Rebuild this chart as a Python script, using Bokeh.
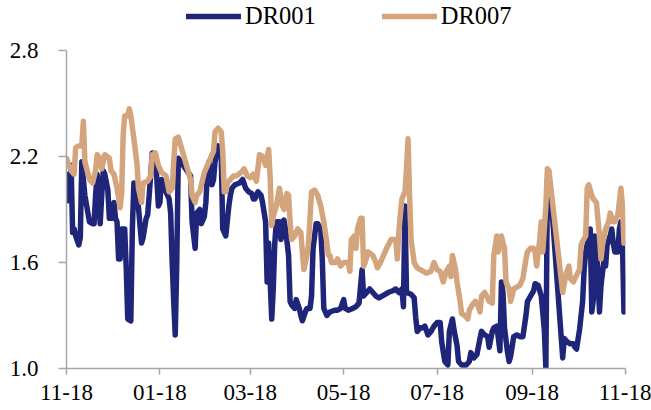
import pandas as pd
from bokeh.plotting import figure
from bokeh.models import (Range1d, FixedTicker, DatetimeTickFormatter, NumeralTickFormatter,
                          Legend, LegendItem, ColumnDataSource)
from bokeh.embed import file_html
from bokeh.resources import INLINE

# Interbank pledged repo rates (%), sampled trading days.
# Day numbers are counted from the start date below.
START = "2021-11-18"
END = "2022-11-18"

dr001_day = [0, 1, 2, 3, 4, 5, 6, 8, 9, 10, 11, 12, 15, 17, 18, 19, 20, 21, 22, 23, 24, 25, 27, 28, 30,
             31, 32, 33, 34, 35, 36, 38, 39, 40, 42, 43, 44, 46, 47, 49, 50, 52, 53, 54, 56, 58, 59, 60,
             61, 62, 65, 67, 68, 69, 70, 71, 72, 73, 81, 82, 84, 85, 87, 88, 90, 91, 92, 93, 95, 96, 97,
             99, 101, 102, 103, 104, 106, 107, 108, 110, 113, 115, 117, 119, 121, 122, 123, 125, 127,
             128, 130, 131, 132, 133, 134, 135, 136, 137, 139, 140, 141, 142, 143, 145, 146, 147, 149,
             150, 152, 153, 154, 156, 157, 159, 160, 161, 163, 164, 166, 167, 168, 170, 172, 175, 177,
             179, 181, 182, 184, 187, 189, 191, 193, 194, 196, 198, 200, 202, 204, 206, 208, 210, 213,
             215, 217, 219, 220, 221, 222, 225, 227, 228, 229, 231, 233, 234, 236, 238, 240, 242, 244,
             245, 247, 249, 250, 252, 253, 255, 256, 258, 261, 263, 264, 266, 268, 270, 271, 273, 275,
             276, 278, 279, 281, 282, 283, 284, 285, 286, 288, 289, 290, 292, 294, 296, 298, 300, 301,
             303, 305, 306, 308, 310, 312, 313, 314, 316, 324, 325, 327, 329, 331, 332, 333, 335, 336,
             337, 338, 339, 341, 342, 343, 344, 345, 346, 347, 348, 349, 351, 352, 353, 355, 356, 357,
             358, 360, 361, 362, 363, 364]
dr001 = [2.10, 1.95, 1.96, 2.15, 1.77, 1.79, 1.75, 1.70, 1.74, 2.17, 2.07, 1.98, 1.83, 1.82, 1.82, 1.98,
         2.10, 1.99, 1.82, 1.98, 2.12, 2.10, 2.01, 1.85, 1.85, 1.94, 1.85, 1.83, 1.62, 1.62, 1.79, 1.79,
         1.57, 1.28, 1.27, 1.79, 2.05, 1.98, 1.91, 1.71, 1.74, 1.85, 1.87, 1.98, 2.22, 2.21, 2.07, 1.92,
         1.94, 2.07, 2.00, 1.96, 1.88, 1.60, 1.38, 1.19, 1.60, 2.19, 2.09, 1.83, 1.68, 1.88, 1.90, 1.82,
         1.86, 1.94, 2.11, 2.17, 2.04, 2.07, 2.17, 2.26, 2.22, 1.79, 1.77, 1.75, 1.92, 1.98, 2.02, 2.04,
         2.05, 2.07, 2.02, 2.00, 1.99, 1.96, 1.96, 2.00, 1.98, 1.94, 1.83, 1.49, 1.71, 1.49, 1.28, 1.45,
         1.71, 1.83, 1.83, 1.73, 1.83, 1.84, 1.79, 1.64, 1.38, 1.36, 1.34, 1.39, 1.34, 1.30, 1.27, 1.32,
         1.34, 1.34, 1.41, 1.68, 1.82, 1.82, 1.79, 1.62, 1.34, 1.30, 1.32, 1.33, 1.33, 1.34, 1.39, 1.34,
         1.33, 1.34, 1.35, 1.37, 1.56, 1.41, 1.43, 1.45, 1.43, 1.41, 1.40, 1.41, 1.42, 1.43, 1.44, 1.45,
         1.43, 1.45, 1.35, 1.92, 1.43, 1.42, 1.40, 1.29, 1.21, 1.23, 1.23, 1.24, 1.19, 1.21, 1.24, 1.26,
         1.26, 1.15, 1.04, 1.02, 1.21, 1.28, 1.22, 1.13, 1.04, 1.02, 1.02, 1.04, 1.09, 1.06, 1.08, 1.17,
         1.21, 1.19, 1.18, 1.12, 1.21, 1.23, 1.24, 1.17, 1.10, 1.49, 1.43, 1.23, 1.09, 1.04, 1.07, 1.18,
         1.19, 1.18, 1.18, 1.30, 1.38, 1.41, 1.44, 1.48, 1.47, 1.41, 1.22, 1.00, 2.07, 2.02, 1.06, 1.17,
         1.15, 1.14, 1.14, 1.12, 1.11, 1.22, 1.30, 1.38, 1.56, 1.66, 1.75, 1.79, 1.32, 1.39, 1.75, 1.68,
         1.53, 1.32, 1.47, 1.62, 1.58, 1.70, 1.75, 1.79, 1.71, 1.66, 1.66, 1.79, 1.83, 1.71, 1.32]

dr007_day = [0, 3, 5, 6, 8, 10, 11, 12, 15, 17, 19, 20, 22, 23, 25, 28, 29, 31, 33, 35, 36, 37, 38, 40,
             41, 42, 44, 46, 47, 49, 50, 53, 55, 56, 58, 60, 62, 65, 67, 69, 70, 71, 73, 81, 82, 84, 85,
             87, 90, 92, 94, 96, 97, 99, 101, 102, 103, 104, 105, 107, 109, 111, 114, 116, 118, 120, 122,
             124, 126, 128, 130, 132, 133, 134, 135, 137, 139, 141, 142, 144, 145, 146, 147, 149, 151,
             153, 154, 155, 157, 158, 159, 160, 162, 164, 166, 168, 170, 171, 172, 173, 176, 177, 179,
             181, 183, 184, 185, 186, 188, 189, 190, 192, 193, 194, 195, 197, 200, 202, 203, 205, 207,
             209, 212, 214, 215, 216, 217, 218, 219, 221, 222, 223, 224, 225, 227, 229, 231, 233, 235,
             238, 240, 242, 244, 246, 248, 250, 251, 252, 254, 255, 257, 258, 260, 262, 263, 265, 267,
             269, 270, 271, 273, 275, 276, 278, 279, 281, 282, 283, 284, 285, 286, 287, 289, 290, 292,
             294, 296, 298, 300, 301, 303, 305, 306, 307, 309, 310, 311, 313, 314, 315, 324, 326, 328,
             329, 331, 332, 335, 336, 337, 339, 340, 341, 343, 344, 346, 348, 349, 350, 352, 354, 355,
             357, 358, 360, 362, 363, 364]
dr007 = [2.19, 2.12, 2.10, 2.25, 2.26, 2.26, 2.40, 2.17, 2.07, 2.05, 2.12, 2.21, 2.19, 2.13, 2.21, 2.19,
         2.12, 2.10, 2.02, 1.91, 1.99, 2.32, 2.43, 2.43, 2.47, 2.43, 2.30, 2.16, 2.02, 1.94, 2.05, 2.06,
         2.09, 2.21, 2.22, 2.15, 2.11, 2.09, 2.00, 2.02, 2.17, 2.30, 2.31, 2.07, 1.98, 1.94, 1.98, 2.00,
         2.11, 2.15, 2.19, 2.23, 2.34, 2.36, 2.34, 2.23, 2.00, 2.00, 2.05, 2.07, 2.09, 2.09, 2.11, 2.13,
         2.09, 2.08, 2.10, 2.06, 2.21, 2.20, 2.15, 2.24, 2.08, 1.81, 1.86, 1.92, 2.02, 1.92, 1.90, 1.99,
         1.98, 1.83, 1.73, 1.75, 1.79, 1.77, 1.66, 1.56, 1.64, 1.71, 1.85, 2.00, 2.01, 1.98, 1.92, 1.83,
         1.71, 1.64, 1.64, 1.60, 1.60, 1.62, 1.58, 1.60, 1.60, 1.60, 1.55, 1.73, 1.75, 1.68, 1.79, 1.85,
         1.85, 1.58, 1.60, 1.66, 1.64, 1.60, 1.57, 1.60, 1.64, 1.68, 1.73, 1.73, 1.73, 1.62, 1.77, 1.87,
         1.96, 2.00, 2.13, 2.30, 1.98, 1.73, 1.60, 1.57, 1.56, 1.55, 1.54, 1.55, 1.60, 1.56, 1.55, 1.49,
         1.55, 1.58, 1.52, 1.64, 1.56, 1.49, 1.38, 1.31, 1.30, 1.28, 1.33, 1.36, 1.38, 1.35, 1.32, 1.41,
         1.43, 1.40, 1.38, 1.37, 1.64, 1.75, 1.66, 1.71, 1.75, 1.71, 1.68, 1.49, 1.45, 1.38, 1.45, 1.46,
         1.47, 1.51, 1.62, 1.66, 1.68, 1.68, 1.66, 1.58, 1.73, 1.83, 1.66, 1.92, 2.13, 2.12, 1.43, 1.53,
         1.58, 1.51, 1.49, 1.51, 1.56, 1.70, 1.72, 1.75, 2.02, 2.04, 1.98, 1.96, 1.94, 1.75, 1.62, 1.70,
         1.79, 1.83, 1.88, 1.83, 1.83, 1.87, 2.02, 1.92, 1.71]

x_ticks = ["2021-11-18", "2022-01-18", "2022-03-18", "2022-05-18", "2022-07-18", "2022-09-18", "2022-11-18"]
y_ticks = [1.0, 1.6, 2.2, 2.8]

NAVY = "#1f2679"
TAN = "#d4a57d"
AXIS = "#a6a6a6"
FONT = "Liberation Serif"

# The frame runs to the top of the canvas so the legend can sit above the
# 2.8 tick; the value axis line itself stops at 2.8.
Y_MIN, Y_MAX, Y_TOP = 1.0, 2.8, 3.083

start = pd.Timestamp(START)
src001 = ColumnDataSource(dict(x=start + pd.to_timedelta(dr001_day, unit="D"), y=dr001))
src007 = ColumnDataSource(dict(x=start + pd.to_timedelta(dr007_day, unit="D"), y=dr007))

p = figure(width=651, height=410, x_axis_type="datetime",
           x_range=Range1d(pd.Timestamp(START), pd.Timestamp(END)),
           y_range=Range1d(Y_MIN, Y_TOP),
           output_backend="svg", toolbar_location=None,
           min_border_left=66, min_border_right=26, min_border_top=0, min_border_bottom=42)
p.outline_line_color = None
p.xgrid.visible = False
p.ygrid.visible = False
p.background_fill_color = "white"
p.border_fill_color = "white"

r1 = p.line("x", "y", source=src001, line_color=NAVY, line_width=5.5,
            line_join="round", line_cap="round")
r2 = p.line("x", "y", source=src007, line_color=TAN, line_width=5.5,
            line_join="round", line_cap="round")

tick_ms = [pd.Timestamp(t).value / 1e6 for t in x_ticks]
p.xaxis.ticker = FixedTicker(ticks=tick_ms)
p.xaxis.formatter = DatetimeTickFormatter(days="%m-%d", months="%m-%d", years="%m-%d")
p.yaxis.ticker = FixedTicker(ticks=y_ticks)
p.yaxis.formatter = NumeralTickFormatter(format="0.0")
p.yaxis.bounds = (Y_MIN, Y_MAX)

for ax in (p.xaxis[0], p.yaxis[0]):
    ax.axis_line_color = AXIS
    ax.axis_line_width = 1.5
    ax.major_tick_line_color = AXIS
    ax.major_tick_line_width = 1.5
    ax.major_tick_in = 0
    ax.minor_tick_line_color = None
    ax.major_label_text_font = FONT
    ax.major_label_text_font_size = "23px"
    ax.major_label_text_color = "black"
p.xaxis.major_tick_out = 6
p.xaxis.major_label_standoff = 10
p.yaxis.major_tick_out = 8
p.yaxis.major_label_standoff = 20

legend = Legend(items=[LegendItem(label="DR001", renderers=[r1]),
                       LegendItem(label="DR007", renderers=[r2])],
                orientation="horizontal", location=(120, 338),
                glyph_width=55, glyph_height=20, label_standoff=4, spacing=66,
                padding=0, margin=0, border_line_color=None, background_fill_alpha=0,
                label_text_font=FONT, label_text_font_size="24.5px", label_text_color="black")
p.add_layout(legend, "center")

open("out.html", "w").write(file_html(p, INLINE))
